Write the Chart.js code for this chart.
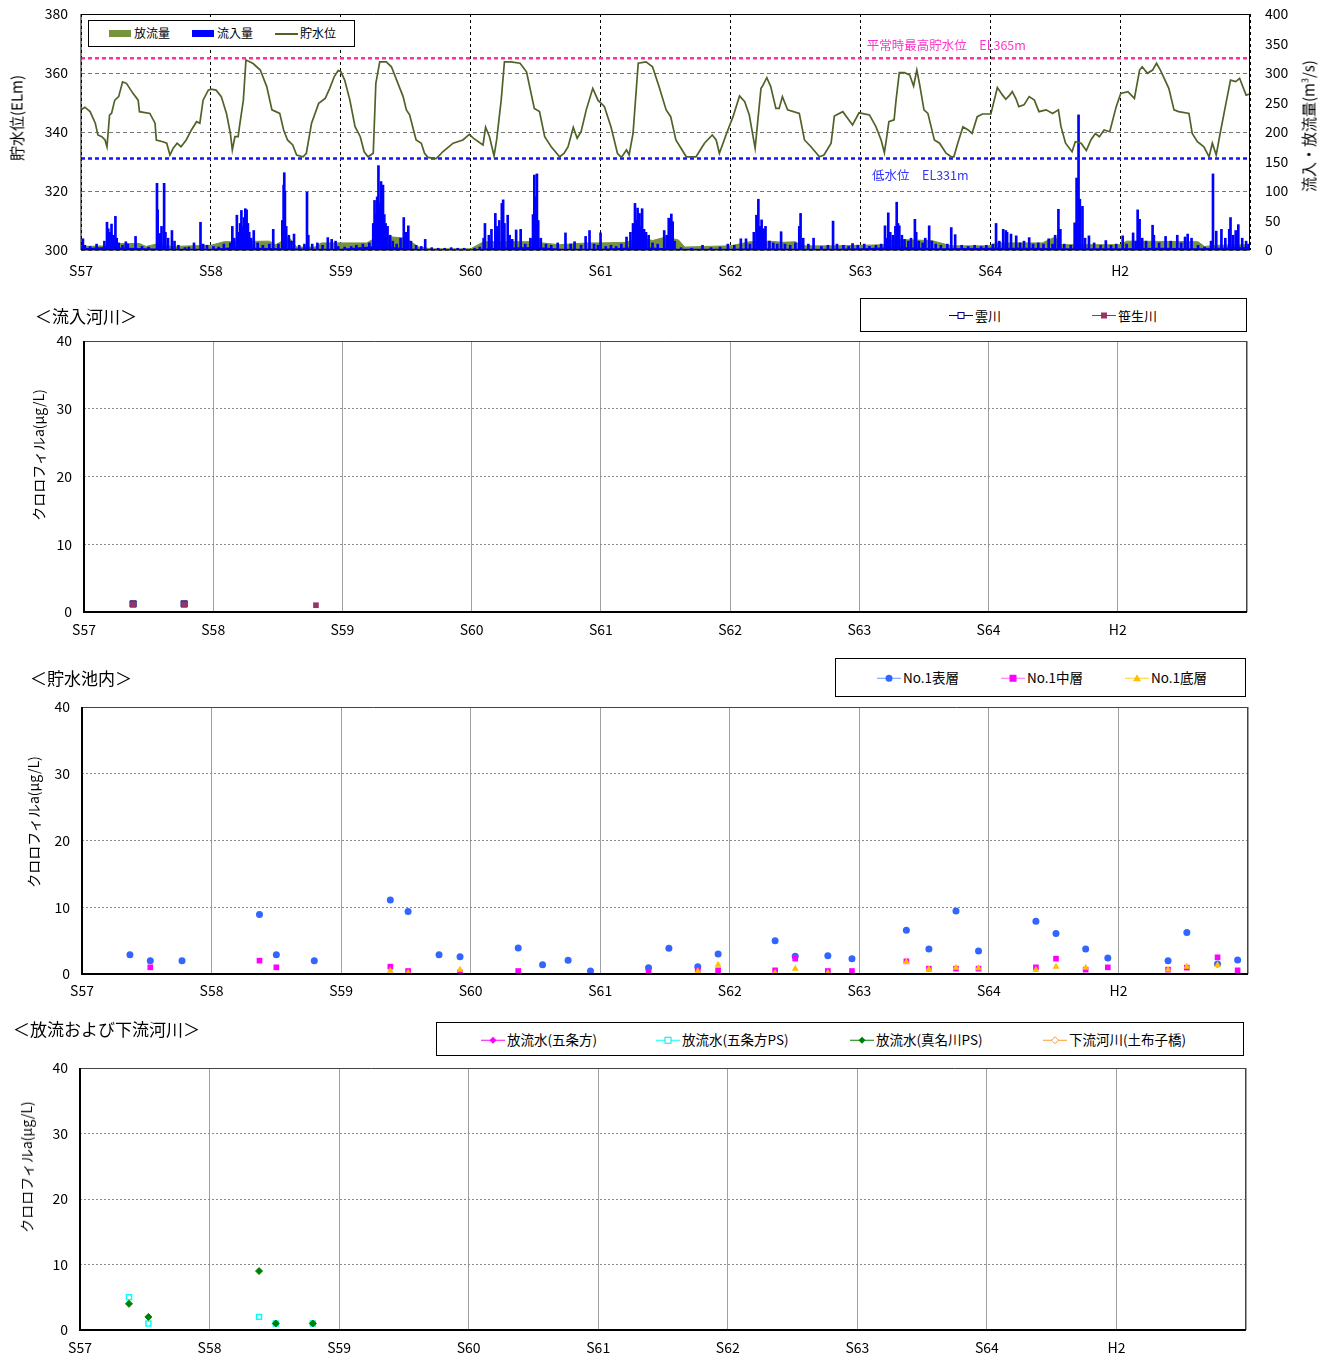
<!DOCTYPE html>
<html><head><meta charset="utf-8">
<script src="https://cdn.jsdelivr.net/npm/chart.js@4/dist/chart.umd.min.js"></script>
<style>
body{margin:0;background:#fff;width:1333px;height:1360px;position:relative;font-family:'Noto Sans CJK JP','Noto Sans',sans-serif;overflow:hidden;color:#000}
canvas{position:absolute;left:0}
.t{position:absolute;white-space:nowrap;transform:translateY(-50%);line-height:1}
.box{position:absolute;border:1px solid #000;background:#fff;box-sizing:border-box}
.li{position:absolute;display:flex;align-items:center;white-space:nowrap;transform:translateY(-50%);line-height:1}
.li svg{margin-right:2px}
.vt{position:absolute;transform:translate(-50%,-50%) rotate(-90deg);white-space:nowrap;line-height:1}
</style></head><body>
<canvas id="c1" width="1333" height="290" style="top:0"></canvas>
<canvas id="c2" width="1333" height="355" style="top:290px"></canvas>
<canvas id="c3" width="1333" height="360" style="top:645px"></canvas>
<canvas id="c4" width="1333" height="355" style="top:1005px"></canvas>

<!-- top chart axis titles and legend -->
<div class="vt" style="left:16px;top:118px;font-size:15px">貯水位(ELm)</div>
<div class="vt" style="left:1308px;top:126px;font-size:15px">流入・放流量(m<sup style="font-size:9px">3</sup>/s)</div>
<div class="box" style="left:88px;top:20px;width:267px;height:27px"></div>
<div style="position:absolute;left:109px;top:30px;width:22px;height:7px;background:#77933C"></div>
<div class="li" style="left:134px;top:33px;font-size:12px">放流量</div>
<div style="position:absolute;left:192px;top:30px;width:22px;height:7px;background:#0000FF"></div>
<div class="li" style="left:217px;top:33px;font-size:12px">流入量</div>
<div style="position:absolute;left:275px;top:33px;width:23px;height:1.5px;background:#4F6228"></div>
<div class="li" style="left:300px;top:33px;font-size:12px">貯水位</div>

<!-- chart 2 -->
<div class="t" style="left:35px;top:315px;font-size:17px">＜流入河川＞</div>
<div class="vt" style="left:38px;top:455px;font-size:14px">クロロフィルa(μg/L)</div>
<div class="box" style="left:860px;top:298px;width:387px;height:34px"></div>
<div class="li" style="left:949px;top:315px;font-size:13px"><svg width="24" height="10"><line x1="0" y1="5" x2="24" y2="5" stroke="#000080" stroke-width="1"/><rect x="9" y="2" width="6" height="6" fill="#fff" stroke="#000080" stroke-width="1"/></svg>雲川</div>
<div class="li" style="left:1092px;top:315px;font-size:13px"><svg width="24" height="10"><line x1="0" y1="5" x2="24" y2="5" stroke="#993366" stroke-width="1"/><rect x="9" y="2" width="6" height="6" fill="#993366"/></svg>笹生川</div>

<!-- chart 3 -->
<div class="t" style="left:30px;top:677px;font-size:17px">＜貯水池内＞</div>
<div class="vt" style="left:33px;top:822px;font-size:14px">クロロフィルa(μg/L)</div>
<div class="box" style="left:835px;top:658px;width:411px;height:39px"></div>
<div class="li" style="left:877px;top:678px;font-size:13.5px"><svg width="24" height="10"><line x1="0" y1="5" x2="24" y2="5" stroke="#6699FF" stroke-width="1"/><circle cx="12" cy="5" r="3.5" fill="#3366FF"/></svg>No.1表層</div>
<div class="li" style="left:1001px;top:678px;font-size:13.5px"><svg width="24" height="10"><line x1="0" y1="5" x2="24" y2="5" stroke="#FF66FF" stroke-width="1"/><rect x="8.5" y="1.5" width="7" height="7" fill="#FF00FF"/></svg>No.1中層</div>
<div class="li" style="left:1125px;top:678px;font-size:13.5px"><svg width="24" height="10"><line x1="0" y1="5" x2="24" y2="5" stroke="#FFCC33" stroke-width="1"/><polygon points="12,1 16,8 8,8" fill="#FFC000"/></svg>No.1底層</div>

<!-- chart 4 -->
<div class="t" style="left:13px;top:1028px;font-size:17px">＜放流および下流河川＞</div>
<div class="vt" style="left:26px;top:1167px;font-size:14px">クロロフィルa(μg/L)</div>
<div class="box" style="left:436px;top:1022px;width:808px;height:34px"></div>
<div class="li" style="left:481px;top:1040px;font-size:13.5px"><svg width="24" height="10"><line x1="0" y1="5" x2="24" y2="5" stroke="#FF00FF" stroke-width="1"/><polygon points="12,1.5 15.5,5 12,8.5 8.5,5" fill="#FF00FF"/></svg>放流水(五条方)</div>
<div class="li" style="left:656px;top:1040px;font-size:13.5px"><svg width="24" height="10"><line x1="0" y1="5" x2="24" y2="5" stroke="#00FFFF" stroke-width="1"/><rect x="9" y="2" width="6" height="6" fill="#fff" stroke="#00E5E5" stroke-width="1"/></svg>放流水(五条方PS)</div>
<div class="li" style="left:850px;top:1040px;font-size:13.5px"><svg width="24" height="10"><line x1="0" y1="5" x2="24" y2="5" stroke="#008000" stroke-width="1"/><polygon points="12,1.5 15.5,5 12,8.5 8.5,5" fill="#008000"/></svg>放流水(真名川PS)</div>
<div class="li" style="left:1043px;top:1040px;font-size:13.5px"><svg width="24" height="10"><line x1="0" y1="5" x2="24" y2="5" stroke="#FF9933" stroke-width="1"/><polygon points="12,1.5 15.5,5 12,8.5 8.5,5" fill="#fff" stroke="#FF9933" stroke-width="1"/></svg>下流河川(土布子橋)</div>

<script>
// ---------------- DATA ----------------
const years = ['S57','S58','S59','S60','S61','S62','S63','S64','H2'];
const levelHigh = 365;   // 平常時最高貯水位
const levelLow = 331;    // 低水位

// 貯水位 [year-offset, EL m]
const level = [
[0,347.5],[0.03,348.4],[0.07,346.9],[0.11,343],[0.13,339],[0.16,338.4],[0.185,337.3],[0.2,335],[0.22,345.8],[0.235,346.3],[0.26,350.8],[0.29,352],[0.32,357],[0.35,356.5],[0.40,353.1],[0.44,350.8],[0.45,346.9],[0.53,346.3],[0.57,343],[0.58,337.3],[0.63,336.7],[0.66,336.2],[0.685,332.2],[0.71,334.5],[0.74,336.2],[0.77,335],[0.81,337.3],[0.85,340.7],[0.89,343.5],[0.915,343],[0.94,350.8],[0.98,354.2],[1.0,354.5],
[1.04,354.2],[1.08,352],[1.12,346.3],[1.15,339.5],[1.165,333.9],[1.185,338.4],[1.21,338.4],[1.22,341.8],[1.25,350.8],[1.27,364.4],[1.29,364],[1.325,363.2],[1.38,361],[1.43,355.4],[1.47,347.5],[1.53,346.3],[1.56,340.7],[1.59,337.3],[1.63,335.6],[1.66,332.2],[1.71,331.6],[1.735,332.8],[1.775,343],[1.83,349.7],[1.88,351.4],[1.915,354.8],[1.95,358.8],[1.98,360.8],[2.0,360.5],
[2.03,357.6],[2.07,350.8],[2.11,341.8],[2.15,338.4],[2.18,333.3],[2.21,331.6],[2.25,332.8],[2.27,356.5],[2.30,363.8],[2.35,363.8],[2.39,362.1],[2.44,356.5],[2.48,352],[2.505,347.5],[2.53,345.8],[2.56,340.7],[2.58,337.3],[2.62,336.2],[2.645,332.8],[2.67,331.4],[2.735,331],[2.785,333.3],[2.865,336.2],[2.94,337.3],[2.99,339.2],
[3.02,337.9],[3.095,335.6],[3.115,341.6],[3.145,338.4],[3.18,331.9],[3.2,337.3],[3.235,350.8],[3.26,363.8],[3.31,363.8],[3.38,363.3],[3.43,360.4],[3.49,348],[3.53,346.9],[3.57,338.4],[3.62,335],[3.685,331.6],[3.72,332.8],[3.75,335],[3.79,341.6],[3.82,337.9],[3.85,340.1],[3.89,347.5],[3.94,354.8],[3.98,350.8],
[4.005,349.7],[4.03,348.6],[4.08,341.8],[4.13,332.8],[4.16,331.4],[4.2,333.9],[4.22,332.2],[4.25,339.5],[4.29,363.3],[4.35,363.8],[4.40,362.1],[4.45,355.4],[4.505,347.5],[4.54,345.2],[4.58,337.3],[4.66,331.6],[4.735,331.6],[4.8,336.2],[4.86,339],[4.89,337.3],[4.915,332.8],[4.97,339.5],
[5.02,345.2],[5.07,352.2],[5.11,350.3],[5.145,345.8],[5.19,334.5],[5.235,354.8],[5.245,355.4],[5.28,358.4],[5.31,355.4],[5.35,348],[5.375,348],[5.40,352],[5.44,347.5],[5.53,346.3],[5.57,337.3],[5.62,335],[5.685,331.6],[5.72,332.2],[5.775,336.2],[5.80,345.4],[5.865,346.9],[5.94,342.4],[5.99,346.5],
[6.07,345.8],[6.12,341.8],[6.16,337.3],[6.185,333],[6.2,337.3],[6.22,343.5],[6.26,344.1],[6.275,350.8],[6.3,360.1],[6.34,360.1],[6.38,359.3],[6.41,355.6],[6.435,361],[6.455,356.5],[6.49,347.5],[6.52,346.3],[6.57,337.3],[6.61,336.2],[6.66,332.8],[6.7,331.6],[6.72,331.6],[6.75,336.2],[6.79,341.8],[6.83,340.7],[6.86,339.5],[6.9,345.2],[6.94,346.1],[7.005,346.1],
[7.055,355.1],[7.095,352.5],[7.12,351.1],[7.15,352.5],[7.17,353.7],[7.2,351.1],[7.22,348.6],[7.26,349.2],[7.3,352],[7.34,350.8],[7.375,346.9],[7.43,347.5],[7.48,346.3],[7.525,347.5],[7.545,341.8],[7.58,336.2],[7.63,333.3],[7.655,336.7],[7.70,336.2],[7.74,333.7],[7.775,337.3],[7.81,339.5],[7.84,338.4],[7.877,340.7],[7.92,340.1],[7.97,348.6],
[8.005,353.1],[8.06,353.7],[8.11,351.4],[8.15,361],[8.17,362.1],[8.21,359.9],[8.25,361],[8.28,363.3],[8.31,361],[8.375,354.8],[8.415,347.5],[8.45,346.9],[8.53,346.3],[8.555,339.5],[8.595,336.7],[8.645,335],[8.685,331.6],[8.71,336.2],[8.74,332.2],[8.77,339.5],[8.81,348.6],[8.85,357.6],[8.89,357.1],[8.92,358.2],[8.97,352.5],[9.0,352.9]
];

// 放流量 [year-offset, m3/s]
const outflow = [[0,6],[0.2,7],[0.25,11],[0.45,11],[0.5,6],[0.58,10],[0.7,6],[1.0,8],[1.1,14],[1.45,15],[1.5,9],[1.6,22],[1.66,5],[1.8,5],[1.85,12],[2.0,12],[2.2,12],[2.3,25],[2.4,22],[2.5,20],[2.6,5],[2.7,2],[3.0,2],[3.1,14],[3.45,14],[3.5,27],[3.55,12],[3.68,9],[3.9,12],[4.0,12],[4.2,13],[4.3,22],[4.4,16],[4.5,22],[4.6,17],[4.65,5],[4.8,6],[5.0,7],[5.15,14],[5.3,15],[5.4,13],[5.5,14],[5.55,7],[5.8,7],[6.2,9],[6.25,18],[6.55,16],[6.7,7],[7.0,7],[7.05,12],[7.4,12],[7.5,22],[7.55,9],[7.7,9],[8.0,9],[8.05,15],[8.6,14],[8.65,6],[8.75,8],[9,9]];

// 流入量 base flow
const inflowBase = [[0,3],[0.2,5],[0.35,4],[0.5,3],[0.7,2],[1,2],[1.2,5],[1.35,4],[1.6,3],[1.8,2],[2,2],[2.3,7],[2.5,3],[2.7,1],[3,1],[3.2,4],[3.5,5],[3.7,2],[4,2],[4.3,5],[4.6,2],[5,2],[5.2,3],[5.5,2],[5.8,2],[6,3],[6.3,5],[6.6,3],[7,4],[7.3,4],[7.6,3],[8,3],[8.3,4],[8.6,3],[9,5]];

// 流入量 peaks per year
const inflowS57 = [[0.015,19],[0.03,8],[0.07,6],[0.12,10],[0.18,15],[0.20,47],[0.21,36],[0.22,30],[0.235,44],[0.25,25],[0.265,57],[0.275,20],[0.29,12],[0.32,8],[0.345,14],[0.36,10],[0.42,23],[0.47,6],[0.52,5],[0.585,113],[0.59,68],[0.61,28],[0.62,40],[0.64,113],[0.65,30],[0.67,20],[0.7,33],[0.72,15],[0.75,8],[0.8,4],[0.83,5],[0.87,12],[0.92,47],[0.94,10],[0.97,8]];
const inflowS58 = [[1.02,6],[1.06,5],[1.10,10],[1.15,12],[1.165,40],[1.18,20],[1.2,59],[1.21,30],[1.225,45],[1.235,67],[1.245,40],[1.255,55],[1.265,70],[1.275,68],[1.285,45],[1.295,30],[1.31,20],[1.33,33],[1.36,12],[1.40,8],[1.45,10],[1.48,35],[1.52,10],[1.55,50],[1.56,110],[1.565,131],[1.57,100],[1.58,40],[1.6,25],[1.62,15],[1.64,27],[1.68,8],[1.72,10],[1.74,98],[1.75,25],[1.78,10],[1.82,12],[1.86,8],[1.9,21],[1.93,18],[1.96,15],[1.98,6]];
const inflowS59 = [[2.03,5],[2.08,6],[2.12,8],[2.17,10],[2.22,12],[2.25,45],[2.26,84],[2.27,60],[2.28,90],[2.29,143],[2.3,80],[2.31,116],[2.315,70],[2.325,110],[2.335,60],[2.345,45],[2.36,40],[2.38,25],[2.4,15],[2.43,10],[2.46,20],[2.485,55],[2.5,30],[2.52,41],[2.54,15],[2.58,8],[2.62,6],[2.65,18],[2.7,4],[2.75,3],[2.8,3],[2.85,4],[2.9,3],[2.95,3]];
const inflowS60 = [[3.03,3],[3.07,5],[3.1,20],[3.11,45],[3.14,25],[3.16,35],[3.19,62],[3.2,40],[3.22,50],[3.24,79],[3.25,85],[3.26,45],[3.285,59],[3.3,25],[3.32,18],[3.35,34],[3.385,35],[3.42,10],[3.46,20],[3.48,60],[3.49,127],[3.5,90],[3.51,129],[3.52,50],[3.54,20],[3.58,10],[3.62,8],[3.67,12],[3.73,29],[3.77,10],[3.8,14],[3.85,8],[3.885,23],[3.915,33],[3.95,10],[3.98,8]];
const inflowS61 = [[4.0,29],[4.04,6],[4.08,8],[4.12,6],[4.16,10],[4.2,22],[4.23,30],[4.25,45],[4.265,79],[4.275,50],[4.285,71],[4.3,62],[4.31,40],[4.32,70],[4.335,35],[4.35,30],[4.37,25],[4.4,12],[4.44,10],[4.49,33],[4.51,25],[4.525,54],[4.545,61],[4.555,48],[4.57,15],[4.62,4],[4.7,3],[4.785,8],[4.85,4],[4.92,5],[4.98,10]];
const inflowS62 = [[5.03,8],[5.08,19],[5.12,19],[5.15,10],[5.18,30],[5.2,59],[5.215,86],[5.225,40],[5.24,51],[5.255,36],[5.27,40],[5.3,15],[5.33,12],[5.36,10],[5.39,31],[5.42,10],[5.46,8],[5.5,12],[5.53,40],[5.54,62],[5.56,20],[5.6,10],[5.64,20],[5.7,6],[5.75,8],[5.79,49],[5.82,10],[5.87,8],[5.91,6],[5.94,11],[5.98,8]];
const inflowS63 = [[6.03,10],[6.07,6],[6.12,8],[6.16,10],[6.19,41],[6.2,20],[6.215,63],[6.23,30],[6.25,25],[6.27,40],[6.28,81],[6.29,45],[6.3,41],[6.32,25],[6.34,18],[6.37,15],[6.39,20],[6.42,52],[6.43,30],[6.45,15],[6.48,12],[6.5,20],[6.53,41],[6.55,15],[6.58,10],[6.62,8],[6.67,10],[6.7,38],[6.73,26],[6.78,8],[6.83,6],[6.88,8],[6.93,6],[6.97,8]];
const inflowS64 = [[7.02,10],[7.045,45],[7.07,15],[7.1,35],[7.12,33],[7.13,30],[7.16,27],[7.2,24],[7.23,12],[7.26,15],[7.3,21],[7.33,10],[7.37,12],[7.41,10],[7.45,19],[7.48,10],[7.5,25],[7.525,69],[7.54,35],[7.57,10],[7.62,8],[7.65,46],[7.665,122],[7.68,229],[7.69,86],[7.71,74],[7.73,20],[7.76,24],[7.8,12],[7.85,8],[7.89,16],[7.93,8],[7.97,10]];
const inflowH2 = [[8.02,24],[8.05,10],[8.1,29],[8.12,15],[8.135,68],[8.15,52],[8.17,20],[8.2,15],[8.25,42],[8.26,25],[8.3,12],[8.35,23],[8.39,15],[8.44,25],[8.47,12],[8.5,22],[8.52,27],[8.55,20],[8.6,8],[8.65,5],[8.7,15],[8.715,129],[8.74,32],[8.78,35],[8.81,20],[8.84,35],[8.85,55],[8.87,25],[8.89,33],[8.91,43],[8.94,20],[8.97,15],[8.99,10]];

// クロロフィルa 流入河川
const kumokawa = [[0.38,1.2],[0.775,1.2]];
const sasoukawa = [[0.38,1.1],[0.775,1.1],[1.795,1.0]];

// クロロフィルa 貯水池内
const no1Surface = [[0.37,2.9],[0.527,2.0],[0.772,2.0],[1.37,8.9],[1.5,2.9],[1.793,2.0],[2.38,11.1],[2.517,9.35],[2.756,2.9],[2.918,2.6],[3.367,3.9],[3.555,1.4],[3.752,2.05],[3.925,0.45],[4.373,0.95],[4.53,3.85],[4.753,1.1],[4.91,3.0],[5.35,5.0],[5.505,2.65],[5.757,2.75],[5.943,2.3],[6.363,6.55],[6.537,3.75],[6.746,9.45],[6.92,3.45],[7.363,7.9],[7.518,6.05],[7.747,3.75],[7.918,2.4],[8.383,2.0],[8.528,6.2],[8.765,1.5],[8.92,2.1]];
const no1Middle = [[0.527,1.0],[1.37,2.0],[1.5,1.0],[2.38,1.1],[2.517,0.45],[2.918,0.25],[3.367,0.45],[4.373,0.3],[4.753,0.55],[4.91,0.55],[5.35,0.55],[5.505,2.3],[5.757,0.45],[5.943,0.45],[6.363,1.9],[6.537,0.8],[6.746,0.8],[6.92,0.8],[7.363,1.0],[7.518,2.3],[7.747,0.65],[7.918,1.0],[8.383,0.65],[8.528,0.95],[8.765,2.5],[8.92,0.55]];
const no1Bottom = [[2.38,0.5],[2.517,0.15],[2.918,0.65],[4.753,0.4],[4.91,1.4],[5.35,0.15],[5.505,0.8],[5.757,0.15],[6.363,1.8],[6.537,0.75],[6.746,0.95],[6.92,0.85],[7.363,0.6],[7.518,1.1],[7.747,0.95],[8.383,0.65],[8.528,1.1],[8.765,1.35]];

// クロロフィルa 放流および下流河川
const gojoho = [];
const gojohoPS = [[0.378,5.0],[0.528,1.0],[1.382,2.0],[1.511,1.0],[1.797,1.0]];
const managawaPS = [[0.378,4.0],[0.528,2.0],[1.382,9.0],[1.511,1.0],[1.797,1.0]];
const dobukobashi = [];

// ---------------- RENDER ----------------
const xy = a => a.map(p => ({x:p[0], y:p[1]}));
const FONT = "'Noto Sans CJK JP','Noto Sans',sans-serif";
Chart.defaults.font.family = FONT;
Chart.defaults.font.size = 14;
Chart.defaults.color = '#000';
Chart.defaults.animation = false;

const frame = {
  id:'frame',
  afterDraw(chart, args, o){
    const {ctx, chartArea:a} = chart;
    ctx.save();
    ctx.strokeStyle = o.side || '#000'; ctx.lineWidth = o.sideW || 1;
    ctx.beginPath();
    ctx.moveTo(a.left, a.top+0.5); ctx.lineTo(a.right, a.top+0.5);
    ctx.moveTo(a.right-0.5, a.top); ctx.lineTo(a.right-0.5, a.bottom);
    ctx.stroke();
    ctx.strokeStyle = o.main || '#000'; ctx.lineWidth = o.mainW || 1;
    ctx.beginPath();
    ctx.moveTo(a.left, a.top); ctx.lineTo(a.left, a.bottom); ctx.lineTo(a.right, a.bottom);
    ctx.stroke();
    ctx.restore();
  }
};

const refLabels = {
  id:'refLabels',
  afterDatasetsDraw(chart){
    const {ctx, scales:{x, y}} = chart;
    ctx.save();
    ctx.font = "12.5px " + FONT;
    ctx.textBaseline = 'middle';
    ctx.fillStyle = '#FF33CC';
    ctx.fillText('平常時最高貯水位　EL365m', x.getPixelForValue(6.05), y.getPixelForValue(levelHigh) - 13);
    ctx.fillStyle = '#3333FF';
    ctx.fillText('低水位　EL331m', x.getPixelForValue(6.09), y.getPixelForValue(levelLow) + 17);
    ctx.restore();
  }
};

function fixW(w){ return function(s){ s.width = w; s.paddingTop = 0; s.paddingBottom = 0; }; }

function xAxis(h, pad, grid, dash){
  return {type:'linear', min:0, max:9, offset:false,
    afterFit(s){ s.height = h; },
    grid:Object.assign({drawTicks:false, offset:false}, grid),
    border:{display:false, dash:dash || []},
    ticks:{stepSize:1, autoSkip:false, maxRotation:0, padding:pad,
      callback:(v)=> (years[v] !== undefined ? years[v] : '')}};
}

// ---- Chart 1: water level & flows
const inflowAll = [].concat(inflowS57, inflowS58, inflowS59, inflowS60, inflowS61, inflowS62, inflowS63, inflowS64, inflowH2);
new Chart(document.getElementById('c1'), {
  type:'line',
  data:{datasets:[
    {label:'貯水位', data:xy(level), yAxisID:'y', borderColor:'#4F6228', borderWidth:1.7, pointRadius:0, tension:0, order:0},
    {label:'high', data:[{x:0,y:levelHigh},{x:9,y:levelHigh}], yAxisID:'y', borderColor:'#FF3399', borderWidth:2.5, borderDash:[4,3], pointRadius:0, order:1},
    {label:'low', data:[{x:0,y:levelLow},{x:9,y:levelLow}], yAxisID:'y', borderColor:'#1515FF', borderWidth:2.5, borderDash:[4,3], pointRadius:0, order:1},
    {type:'bar', label:'流入量', data:xy(inflowAll), yAxisID:'y2', backgroundColor:'#0000FF', barThickness:2, grouped:false, order:2},
    {label:'流入量base', data:xy(inflowBase), yAxisID:'y2', borderWidth:0, borderColor:'#0000FF', backgroundColor:'#0000FF', fill:'origin', pointRadius:0, tension:0, order:3},
    {label:'放流量', data:xy(outflow), yAxisID:'y2', borderWidth:1, borderColor:'#77933C', backgroundColor:'#77933C', fill:'origin', pointRadius:0, tension:0, order:4}
  ]},
  options:{
    responsive:false, devicePixelRatio:1,
    layout:{padding:{top:14, left:0, right:0, bottom:0}},
    plugins:{legend:{display:false}, tooltip:{enabled:false}, frame:{main:'#000', side:'#000', mainW:1, sideW:1}},
    scales:{
      x:xAxis(40, 12, {color:'#000', lineWidth:1}, [3,3]),
      y:{position:'left', min:300, max:380, afterFit:fixW(81),
         grid:{drawTicks:false, color:'#777'}, border:{display:false, dash:[4,3]},
         ticks:{stepSize:20, padding:13}},
      y2:{position:'right', min:0, max:400, afterFit:fixW(83),
         grid:{display:false, drawTicks:false}, border:{display:false},
         ticks:{stepSize:50, padding:15}}
    }
  },
  plugins:[frame, refLabels]
});

// ---- scatter chart helper
function scatterChart(id, padTop, left, right, xh, xpad, datasets){
  return new Chart(document.getElementById(id), {
    type:'scatter',
    data:{datasets},
    options:{
      responsive:false, devicePixelRatio:1,
      layout:{padding:{top:padTop, left:0, right:1333-right, bottom:0}},
      plugins:{legend:{display:false}, tooltip:{enabled:false}, frame:{main:'#000', mainW:2, side:'#444', sideW:1}},
      scales:{
        x:xAxis(xh, xpad, {color:'#A0A0A0', lineWidth:1}, []),
        y:{min:0, max:40, afterFit:fixW(left),
           grid:{drawTicks:false, color:'#8C8C8C', lineWidth:1}, border:{display:false, dash:[2,2]},
           ticks:{stepSize:10, padding:12}}
      }
    },
    plugins:[frame]
  });
}

scatterChart('c2', 51, 84, 1247, 33, 9, [
  {label:'笹生川', data:xy(sasoukawa), pointStyle:'rect', pointRadius:4, backgroundColor:'#993366', borderColor:'#993366', borderWidth:0, order:0},
  {label:'雲川', data:xy(kumokawa), pointStyle:'rect', pointRadius:4.5, backgroundColor:'#4B3C8C', borderColor:'#333399', borderWidth:1, order:1}
]);

scatterChart('c3', 62, 82, 1248, 31, 8, [
  {label:'No.1底層', data:xy(no1Bottom), pointStyle:'triangle', pointRadius:4, backgroundColor:'#FFC000', borderColor:'#FFC000', borderWidth:0, order:0},
  {label:'No.1中層', data:xy(no1Middle), pointStyle:'rect', pointRadius:4, backgroundColor:'#FF00FF', borderColor:'#FF00FF', borderWidth:0, order:1},
  {label:'No.1表層', data:xy(no1Surface), pointStyle:'circle', pointRadius:3.5, backgroundColor:'#3366FF', borderColor:'#3366FF', borderWidth:0, order:2}
]);

scatterChart('c4', 63, 80, 1246, 30, 9, [
  {label:'放流水(五条方)', data:xy(gojoho), pointStyle:'rectRot', pointRadius:3.5, backgroundColor:'#FF00FF', order:0},
  {label:'下流河川(土布子橋)', data:xy(dobukobashi), pointStyle:'rectRot', pointRadius:3.5, backgroundColor:'#fff', borderColor:'#FF9933', order:0},
  {label:'放流水(真名川PS)', data:xy(managawaPS), pointStyle:'rectRot', pointRadius:3.5, backgroundColor:'#008000', borderColor:'#008000', borderWidth:1, order:1},
  {label:'放流水(五条方PS)', data:xy(gojohoPS), pointStyle:'rect', pointRadius:3.5, backgroundColor:'#fff', borderColor:'#00FFFF', borderWidth:1.5, order:2}
]);
</script>
</body></html>
